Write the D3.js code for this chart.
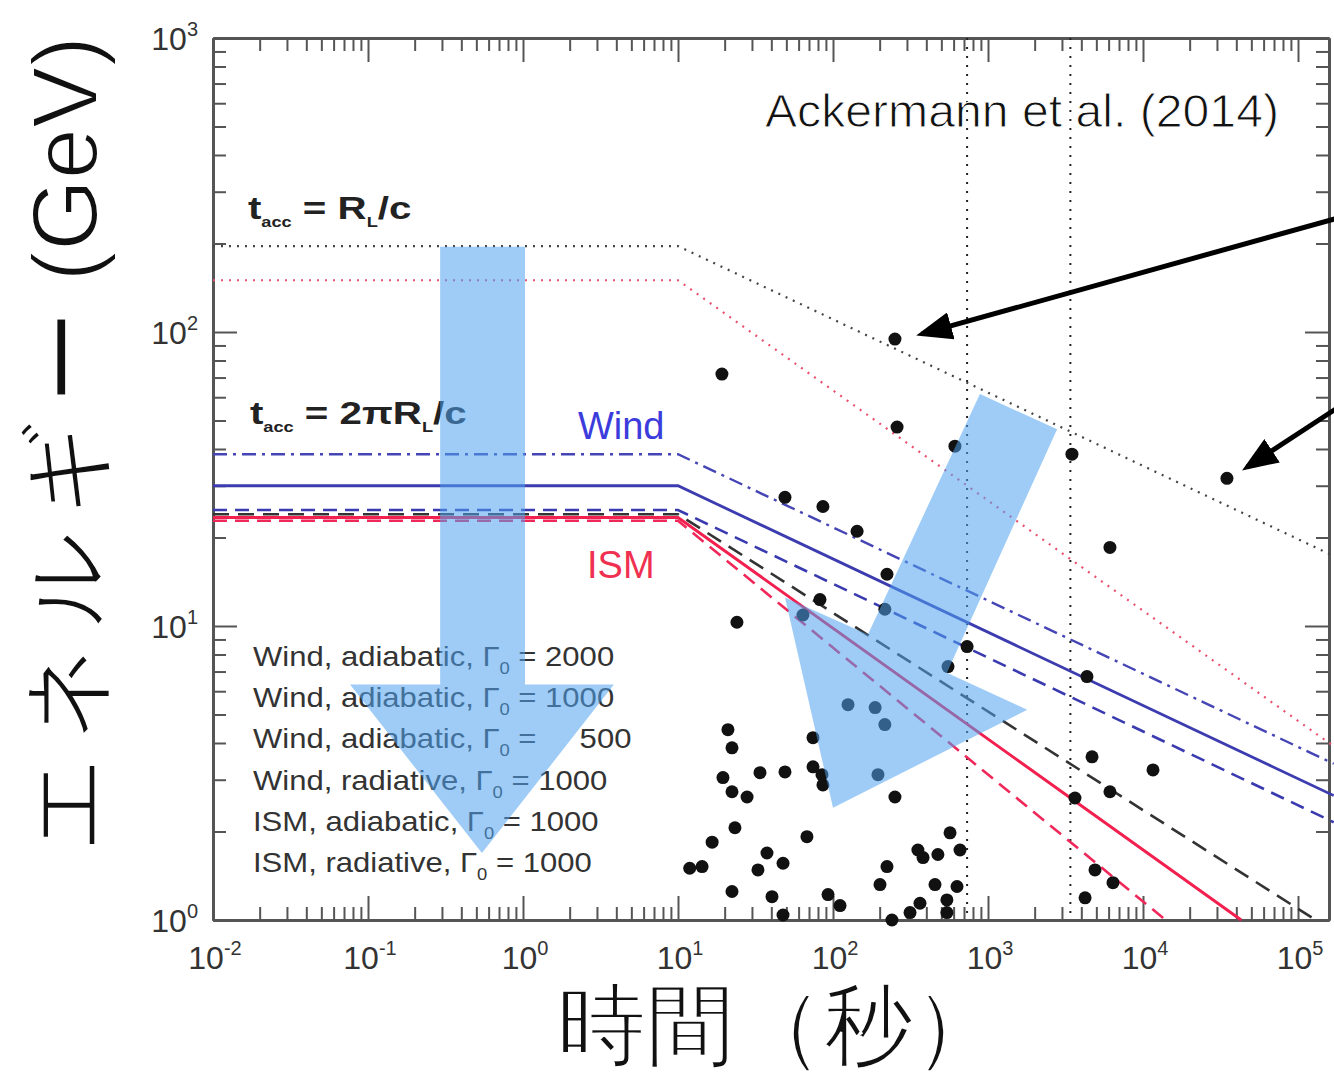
<!DOCTYPE html>
<html lang="ja">
<head>
<meta charset="UTF-8">
<script src="https://d3js.org/d3.v7.min.js"></script>
<title>Ackermann et al. (2014)</title>
<style>
  body { margin: 0; background: #fff; }
  text { font-family: 'Liberation Sans', Arial, sans-serif; }
  .axis path, .axis line { stroke: #555; }
  .axis path { stroke-width: 3; }
  .axis line { stroke-width: 2; }
  .thin { stroke: #fff; paint-order: normal; }
</style>
</head>
<body>
<script>
const width = 1334, height = 1074;

// LAT photons: arrival time (s) and energy (GeV)
const photonT = [251,19.2,259,612,3480,34800,49.0,86.1,143,6120,223,82.4,216,64.0,24.0,733,552,4350,125,187,
  216,21.0,22.3,74.3,4690,11600,19.5,33.8,49.0,74.3,84.9,86.1,195,22.3,27.9,251,3640,6120,23.3,67.9,
  16.6,37.5,32.8,47.6,11.9,14.3,569,353,381,475,660,223,201,22.3,40.4,92.9,111,47.6,455,631,
  364,314,543,543,240,4900,6400,4230];
const photonE = [94.6,71.9,47.5,40.9,38.4,31.8,27.4,25.5,21.0,18.5,15.0,12.3,11.4,10.9,10.3,8.51,7.28,6.73,5.40,5.28,
  4.62,4.44,3.85,4.17,3.59,3.24,3.05,3.17,3.19,3.32,3.12,2.88,3.12,2.73,2.62,2.62,2.60,2.73,2.06,1.92,
  1.84,1.69,1.48,1.56,1.50,1.52,1.98,1.73,1.63,1.67,1.73,1.52,1.32,1.25,1.20,1.22,1.12,1.04,1.32,1.30,
  1.14,1.06,1.17,1.06,1.00,1.48,1.34,1.19];

// maximum synchrotron energy curves, [t, E] break points
const windRL   = [[0.01,196],[10,196],[1.7e5,17.3]];
const ismRL    = [[0.01,150],[10,150],[1.7e5,3.9]];
const windAd2000 = [[0.01,38.4],[10,38.4],[1.7e5,3.4]];
const windAd1000 = [[0.01,30],[10,30],[1.7e5,2.65]];
const windAd500  = [[0.01,24.8],[10,24.8],[1.7e5,2.15]];
const windRad1000 = [[0.01,24],[10,24],[1.3e5,1.0]];
const ismAd1000  = [[0.01,23.4],[10,23.4],[4.3e4,1.0]];
const ismRad1000 = [[0.01,22.8],[10,22.8],[1.4e4,1.0]];

const vLines = [733, 3400];

const xTickExps = [-2,-1,0,1,2,3,4,5];
const yTickExps = [0,1,2,3];

const legendLabels = [
  ["Wind, adiabatic, Γ", " = 2000"],
  ["Wind, adiabatic, Γ", " = 1000"],
  ["Wind, adiabatic, Γ", " = \u2007\u2007500"],
  ["Wind, radiative, Γ", " = 1000"],
  ["ISM, adiabatic, Γ", " = 1000"],
  ["ISM, radiative, Γ", " = 1000"]
];

// overlay arrows, in data coordinates
const downArrow = [[0.292,195],[1.03,195],[1.03,6.32],[3.86,6.32],[0.543,1.69],[0.0766,6.32],[0.292,6.32]];
const diagArrow = [[887,61.5],[2790,46.7],[543,6.94],[1790,5.19],[100,2.41],[49,12.5],[168,9.35]];
const pointers = [[[1.75e5,243],[375,98.5]], [[1.75e5,54.7],[46900,34.7]]];

const x = d3.scaleLog().domain([1e-2, Math.pow(10,5.2)]).range([213, 1329]);
const y = d3.scaleLog().domain([1, 1000]).range([920, 38]);

const svg = d3.select("body").append("svg")
    .attr("width", width).attr("height", height);

svg.append("defs").append("marker")
    .attr("id", "head")
    .attr("markerUnits", "userSpaceOnUse")
    .attr("viewBox", "0 0 36 28")
    .attr("markerWidth", 36).attr("markerHeight", 28)
    .attr("refX", 30).attr("refY", 14)
    .attr("orient", "auto")
  .append("path").attr("d", "M0,0 L36,14 L0,28 Z").attr("fill", "#000");

// ticks
const xMinor = [], yMinor = [];
xTickExps.forEach(e => { for (let k = 2; k < 10; k++) { const v = k * Math.pow(10, e); if (v < x.domain()[1]) xMinor.push(v); } });
yTickExps.slice(0, 3).forEach(e => { for (let k = 2; k < 10; k++) yMinor.push(k * Math.pow(10, e)); });
const xMajor = xTickExps.map(e => Math.pow(10, e));
const yMajor = yTickExps.map(e => Math.pow(10, e));

function addAxis(axisFn, scale, vals, size, tr) {
  svg.append("g").attr("class", "axis").attr("transform", tr)
    .call(axisFn(scale).tickValues(vals).tickSize(size).tickSizeOuter(0).tickFormat(""));
}
addAxis(d3.axisBottom, x, xMajor, -24, `translate(0,${y(1)})`);
addAxis(d3.axisBottom, x, xMinor, -13, `translate(0,${y(1)})`);
addAxis(d3.axisTop, x, xMajor, -24, `translate(0,${y(1000)})`);
addAxis(d3.axisTop, x, xMinor, -13, `translate(0,${y(1000)})`);
addAxis(d3.axisLeft, y, yMajor, -24, `translate(${x.range()[0]},0)`);
addAxis(d3.axisLeft, y, yMinor, -13, `translate(${x.range()[0]},0)`);
addAxis(d3.axisRight, y, yMajor, -24, `translate(${x.range()[1]},0)`);
addAxis(d3.axisRight, y, yMinor, -13, `translate(${x.range()[1]},0)`);
svg.selectAll(".axis text").remove();

// tick labels
const xl = svg.append("g").selectAll("text").data(xTickExps).join("text")
    .attr("x", d => x(Math.pow(10, d)) + 2).attr("y", 969)
    .attr("text-anchor", "middle").attr("font-size", 32).attr("fill", "#333");
xl.append("tspan").text("10");
xl.append("tspan").attr("dy", -14).attr("font-size", 20).text(d => d);

const yl = svg.append("g").selectAll("text").data(yTickExps).join("text")
    .attr("x", 198).attr("y", d => y(Math.pow(10, d)) + 12)
    .attr("text-anchor", "end").attr("font-size", 32).attr("fill", "#333");
yl.append("tspan").text("10");
yl.append("tspan").attr("dy", -14).attr("font-size", 20).text(d => d);

// vertical dotted lines
svg.append("g").selectAll("line").data(vLines).join("line")
    .attr("x1", d => x(d)).attr("x2", d => x(d))
    .attr("y1", y(1000)).attr("y2", y(1))
    .attr("stroke", "#222").attr("stroke-width", 2).attr("stroke-dasharray", "2,7");

// model curves
const line = d3.line().x(d => x(d[0])).y(d => y(d[1]));
const curves = [
  { pts: windRL, color: "#444", w: 2.2, dash: "2,6" },
  { pts: ismRL, color: "#e8506e", w: 2.2, dash: "2,6" },
  { pts: windAd2000, color: "#4545b5", w: 2.4, dash: "14,6,3,6" },
  { pts: windAd500, color: "#3a3ab0", w: 2.6, dash: "14,8" },
  { pts: windRad1000, color: "#333", w: 2.6, dash: "16,9" },
  { pts: ismRad1000, color: "#f0285a", w: 2.6, dash: "14,8" },
  { pts: windAd1000, color: "#3c3cb0", w: 2.8, dash: null },
  { pts: ismAd1000, color: "#f2204f", w: 3, dash: null }
];
svg.append("g").selectAll("path").data(curves).join("path")
    .attr("d", d => line(d.pts))
    .attr("fill", "none")
    .attr("stroke", d => d.color)
    .attr("stroke-width", d => d.w)
    .attr("stroke-dasharray", d => d.dash);

// photons
svg.append("g").selectAll("circle").data(photonT).join("circle")
    .attr("cx", d => x(d)).attr("cy", (d, i) => y(photonE[i]))
    .attr("r", 6.5).attr("fill", "#111");

// text labels (the source figure is stretched sideways)
function accLabel(t, e, main) {
  const g = svg.append("g").attr("transform", `translate(${x(t)},${y(e)}) scale(1.3,1)`);
  const tx = g.append("text").attr("font-size", 31).attr("font-weight", "bold").attr("fill", "#222");
  tx.append("tspan").text("t");
  tx.append("tspan").attr("dy", 8).attr("font-size", 14).text("acc");
  tx.append("tspan").attr("dy", -8).text(main);
  tx.append("tspan").attr("dy", 8).attr("font-size", 14).text("L");
  tx.append("tspan").attr("dy", -8).text("/c");
}
accLabel(0.0168, 243, " = R");
accLabel(0.0173, 48.6, " = 2πR");

svg.append("text").attr("x", x(2.26)).attr("y", y(43.2))
    .attr("font-size", 38).attr("fill", "#3c3cdc").text("Wind");
svg.append("text").attr("x", x(2.59)).attr("y", y(14.6))
    .attr("font-size", 38).attr("fill", "#f03050").text("ISM");

const leg = svg.append("g").attr("transform", "translate(253,0) scale(1.15,1)")
  .selectAll("text").data(legendLabels).join("text")
    .attr("x", 0).attr("y", (d, i) => 666 + i * 41.2)
    .attr("font-size", 27).attr("fill", "#333").attr("xml:space", "preserve");
leg.append("tspan").text(d => d[0]);
leg.append("tspan").attr("dy", 8).attr("font-size", 16).text("0");
leg.append("tspan").attr("dy", -8).text(d => d[1]);

svg.append("text").attr("class", "thin")
    .attr("x", x(36.4)).attr("y", y(499))
    .attr("font-family", "Lato, Roboto, 'Liberation Sans', sans-serif")
    .attr("font-weight", 300).attr("font-size", 47).attr("fill", "#111")
    .attr("stroke-width", 1)
    .attr("textLength", 514).attr("lengthAdjust", "spacingAndGlyphs")
    .text("Ackermann et al. (2014)");

// black pointer arrows
svg.append("g").selectAll("line").data(pointers).join("line")
    .attr("x1", d => x(d[0][0])).attr("y1", d => y(d[0][1]))
    .attr("x2", d => x(d[1][0])).attr("y2", d => y(d[1][1]))
    .attr("stroke", "#000").attr("stroke-width", 5)
    .attr("marker-end", "url(#head)");

// translucent blue arrows
const poly = pts => "M" + pts.map(p => [x(p[0]), y(p[1])].join(",")).join("L") + "Z";
svg.append("g").selectAll("path").data([downArrow, diagArrow]).join("path")
    .attr("d", poly)
    .attr("fill", "#4fa3ef").attr("fill-opacity", 0.55);

// axis titles
const cjk = "'Noto Sans CJK JP', sans-serif";
svg.append("text").attr("class", "thin")
    .attr("transform", "translate(97,852) rotate(-90)")
    .attr("font-family", cjk).attr("font-weight", 300)
    .attr("font-size", 94).attr("letter-spacing", 16).attr("fill", "#111")
    .attr("stroke-width", 2)
    .text("エネルギー");
svg.append("text").attr("class", "thin")
    .attr("transform", "translate(97,36) rotate(-90)")
    .attr("text-anchor", "end")
    .attr("font-family", cjk).attr("font-weight", 300)
    .attr("font-size", 92).attr("fill", "#111")
    .attr("stroke-width", 2)
    .text("(GeV)");
svg.append("text").attr("class", "thin")
    .attr("x", 557).attr("y", 1056)
    .attr("font-family", cjk).attr("font-weight", 300)
    .attr("font-size", 89).attr("fill", "#111")
    .attr("stroke-width", 2)
    .text("時間（秒）");
</script>
</body>
</html>
